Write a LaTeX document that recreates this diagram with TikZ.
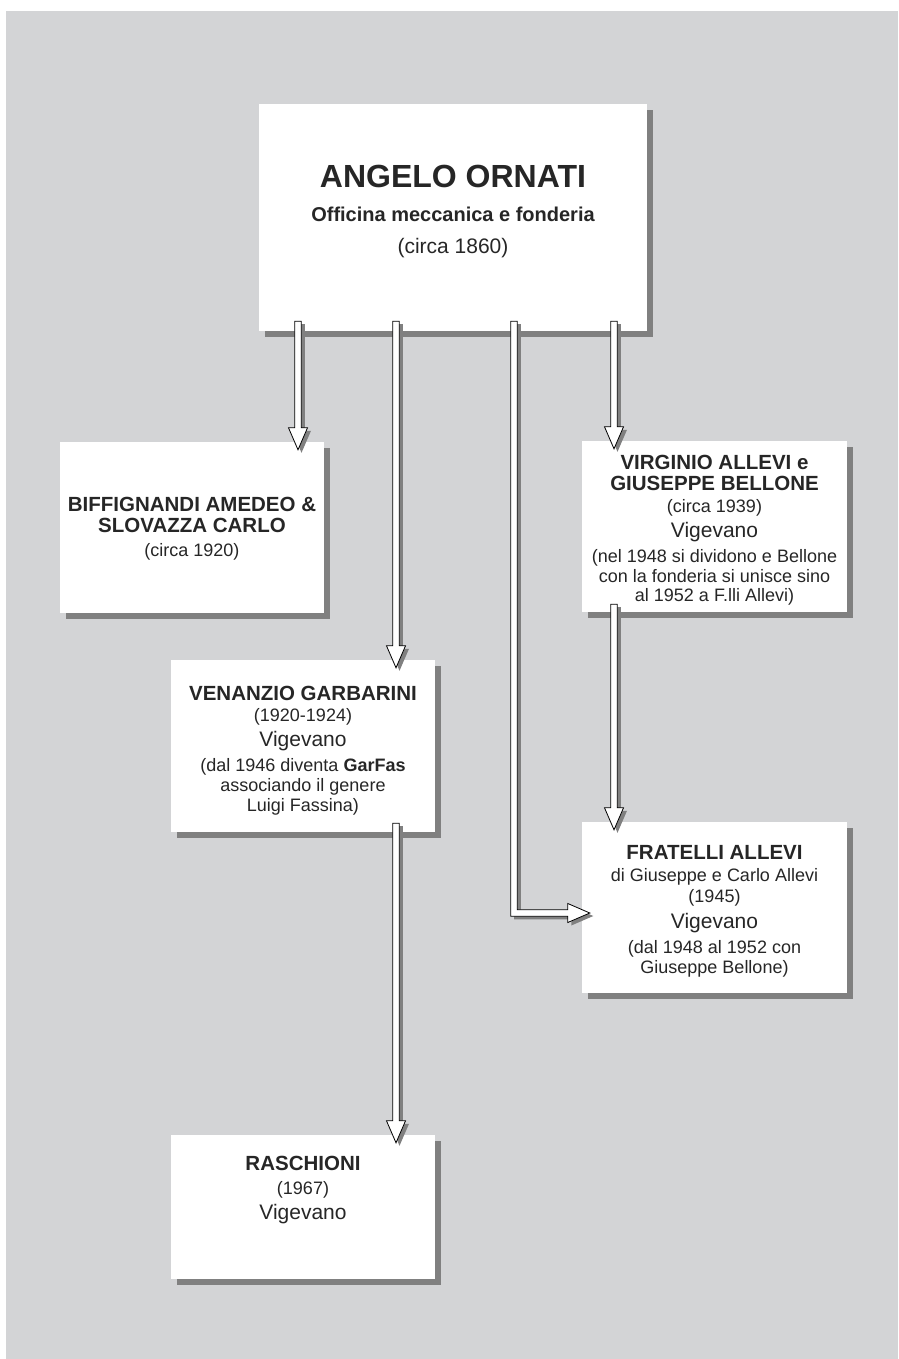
\documentclass[tikz,border=0pt]{standalone}
\usepackage{fontspec}
\setmainfont{Liberation Sans}
\usetikzlibrary{shadows,calc}
\definecolor{bggray}{HTML}{D3D4D6}
\definecolor{shgray}{HTML}{808080}
\definecolor{txt}{HTML}{262626}
\newcommand\dnarrow[2]{\filldraw[harrow] ([xshift=-3.3pt]#1) -- ([shift={(-3.3,-22)}]#2) -- ([shift={(-9.5,-22)}]#2) -- (#2) -- ([shift={(9.5,-22)}]#2) -- ([shift={(3.3,-22)}]#2) -- ([xshift=3.3pt]#1) -- cycle;}
\begin{document}
\begin{tikzpicture}[x=1pt,y=-1pt,
  box/.style={rectangle, fill=white, inner sep=0pt, draw=none,
    drop shadow={shadow xshift=6pt, shadow yshift=-6pt, fill=shgray, opacity=1}},
  harrow/.style={fill=white, draw=black, line width=0.8pt, line join=miter,
    drop shadow={shadow xshift=3.5pt, shadow yshift=-3pt, fill=shgray, opacity=1}},
  tt/.style={anchor=base, inner sep=0pt, text=txt, font=\fontsize{32}{36}\selectfont\bfseries},
  tb/.style={anchor=base, inner sep=0pt, text=txt, font=\fontsize{20.5}{24}\selectfont\bfseries},
  ts/.style={anchor=base, inner sep=0pt, text=txt, font=\fontsize{18}{22}\selectfont},
  tv/.style={anchor=base, inner sep=0pt, text=txt, font=\fontsize{21}{24}\selectfont},
]
\useasboundingbox (0,0) rectangle (898,1359);
\fill[white] (0,0) rectangle (898,1359);
\fill[bggray] (6,11) rectangle (898,1359);

% boxes
\node[box, minimum width=388pt, minimum height=227pt] (top) at (453,217.5) {};
\node[box, minimum width=264pt, minimum height=171pt] (biff) at (192,527.5) {};
\node[box, minimum width=265pt, minimum height=171pt] (virg) at (714.5,526.5) {};
\node[box, minimum width=264pt, minimum height=172pt] (ven) at (303,746) {};
\node[box, minimum width=265pt, minimum height=171pt] (frat) at (714.5,907.5) {};
\node[box, minimum width=264pt, minimum height=144pt] (rasch) at (303,1207) {};

% connector coordinates
\coordinate (a1s) at ([shift={(-155,-10)}]top.south);
\path (a1s |- biff.north) ++(0,8) coordinate (a1e);
\coordinate (a2s) at ([shift={(-57,-10)}]top.south);
\path (a2s |- ven.north) ++(0,8) coordinate (a2e);
\coordinate (a3s) at ([shift={(61,-10)}]top.south);
\path (frat.west) ++(8,5.5) coordinate (a3e);
\coordinate (a4s) at ([shift={(161,-10)}]top.south);
\path (a4s |- virg.north) ++(0,8) coordinate (a4e);
\coordinate (a5s) at ([shift={(-100.5,-8)}]virg.south);
\path (a5s |- frat.north) ++(0,8) coordinate (a5e);
\coordinate (a6s) at ([shift={(93,-9)}]ven.south);
\path (a6s |- rasch.north) ++(0,8) coordinate (a6e);

% connectors
\dnarrow{a1s}{a1e}
\dnarrow{a2s}{a2e}
\dnarrow{a4s}{a4e}
\dnarrow{a5s}{a5e}
\dnarrow{a6s}{a6e}
\filldraw[harrow] ($(a3s)+(-3.3,0)$) -- ($(a3s|-a3e)+(-3.3,3.3)$) -- ($(a3e)+(-22,3.3)$) -- ($(a3e)+(-22,9.5)$) -- (a3e) -- ($(a3e)+(-22,-9.5)$) -- ($(a3e)+(-22,-3.3)$) -- ($(a3s|-a3e)+(3.3,-3.3)$) -- ($(a3s)+(3.3,0)$) -- cycle;

% texts: top
\node[tt] (t1) at (453,187) {ANGELO ORNATI};
\node[tb, font=\fontsize{20}{24}\selectfont\bfseries] (t2) at (453,222) {Officina meccanica e fonderia};
\node[tv] (t3) at (453,253) {(circa 1860)};
% biff
\node[tb] (b1) at (192,511) {BIFFIGNANDI AMEDEO \&};
\node[tb] (b2) at (192,532) {SLOVAZZA CARLO};
\node[ts] (b3) at (192,556) {(circa 1920)};
% virginio
\node[tb] (v1) at (714.5,469) {VIRGINIO ALLEVI e};
\node[tb] (v2) at (714.5,490) {GIUSEPPE BELLONE};
\node[ts] (v3) at (714.5,512) {(circa 1939)};
\node[tv] (v4) at (714.5,537) {Vigevano};
\node[ts] (v5) at (714.5,562) {(nel 1948 si dividono e Bellone};
\node[ts] (v6) at (714.5,582) {con la fonderia si unisce sino};
\node[ts] (v7) at (714.5,601) {al 1952 a F.lli Allevi)};
% venanzio
\node[tb] (g1) at (303,700) {VENANZIO GARBARINI};
\node[ts] (g2) at (303,721) {(1920-1924)};
\node[tv] (g3) at (303,746) {Vigevano};
\node[ts] (g4) at (303,771) {(dal 1946 diventa \textbf{GarFas}};
\node[ts] (g5) at (303,791) {associando il genere};
\node[ts] (g6) at (303,811) {Luigi Fassina)};
% fratelli
\node[tb] (f1) at (714.5,859) {FRATELLI ALLEVI};
\node[ts] (f2) at (714.5,881) {di Giuseppe e Carlo Allevi};
\node[ts] (f3) at (714.5,902) {(1945)};
\node[tv] (f4) at (714.5,928) {Vigevano};
\node[ts] (f5) at (714.5,953) {(dal 1948 al 1952 con};
\node[ts] (f6) at (714.5,973) {Giuseppe Bellone)};
% raschioni
\node[tb] (r1) at (303,1170) {RASCHIONI};
\node[ts] (r2) at (303,1194) {(1967)};
\node[tv] (r3) at (303,1219) {Vigevano};
\end{tikzpicture}
\end{document}
